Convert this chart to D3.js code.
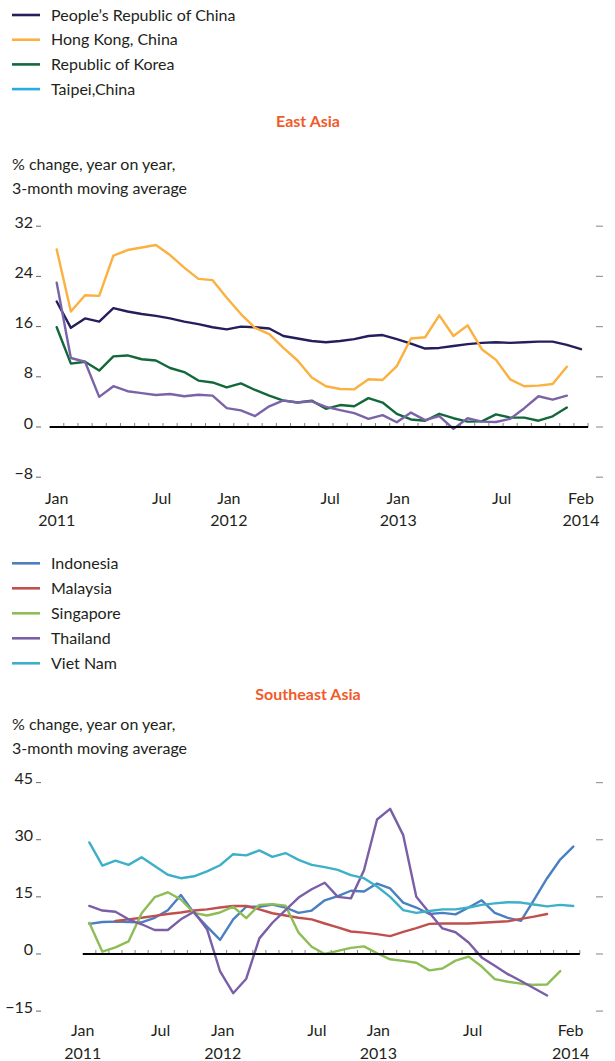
<!DOCTYPE html>
<html><head><meta charset="utf-8">
<script src="https://cdn.jsdelivr.net/npm/d3@7"></script>
<style>
html,body{margin:0;padding:0;background:#fff;}
text{font-family:Lato,"Open Sans",sans-serif;fill:#231f20;}
</style></head>
<body><svg id="c" width="615" height="1061"></svg>
<script>
// ---- data ----
const months = d3.timeMonth.range(new Date(2011,0,1), new Date(2014,2,1)); // Jan 2011 .. Feb 2014 (38)

const eastNames = ["People\u2019s Republic of China","Hong Kong, China","Republic of Korea","Taipei,China"];
const eastLegendColors = ["#241f5c","#fbb040","#12683a","#2aaae2"];
const eastLineColors = ["#241f5c","#fbb040","#12683a","#7b63a8"];
const china = [20.0,15.8,17.3,16.8,18.95,18.4,18.0,17.7,17.3,16.8,16.4,15.9,15.55,16.0,15.9,15.7,14.5,14.1,13.7,13.5,13.7,14.0,14.5,14.65,14.0,13.3,12.5,12.6,12.9,13.2,13.4,13.5,13.4,13.5,13.6,13.6,13.1,12.4];
const hongKong = [28.3,18.4,21.0,20.9,27.3,28.2,28.6,29.0,27.4,25.4,23.6,23.4,20.6,18.0,15.8,14.8,12.6,10.6,7.9,6.5,6.05,6.0,7.6,7.5,9.7,14.1,14.3,17.8,14.5,16.2,12.4,10.7,7.6,6.5,6.6,6.85,9.6,null];
const korea = [15.9,10.1,10.4,9.0,11.25,11.4,10.8,10.6,9.4,8.75,7.4,7.1,6.3,6.95,5.9,5.0,4.2,3.9,4.2,2.9,3.5,3.3,4.6,3.9,2.1,1.2,1.0,2.1,1.4,0.85,0.9,2.0,1.5,1.5,1.0,1.7,3.1,null];
const taipei = [23.0,11.0,10.4,4.8,6.5,5.7,5.4,5.1,5.25,4.9,5.15,5.0,3.0,2.65,1.75,3.3,4.25,3.9,4.1,3.2,2.7,2.2,1.3,1.9,0.75,2.3,1.1,1.75,-0.3,1.4,0.85,0.8,1.3,3.0,4.9,4.35,5.0,null];
const eastTicks = [32,24,16,8,0,-8];
const eastXLabels = [["Jan","2011"],["Jul"],["Jan","2012"],["Jul"],["Jan","2013"],["Jul"],["Feb","2014"]];
const eastXLabelPos = [0,7.4,12.15,19.3,24.1,31.4,37];

const seNames = ["Indonesia","Malaysia","Singapore","Thailand","Viet Nam"];
const seColors = ["#4a7fc1","#c0504d","#8dbd55","#7a5fa6","#3db0c8"];
const indonesia = [7.9,8.4,8.5,8.4,8.3,9.5,11.5,15.5,10.8,7.2,3.7,9.1,12.4,12.4,13.0,12.2,10.8,11.4,14.1,15.2,16.6,16.4,18.5,17.2,13.5,12.2,10.5,10.8,10.4,12.2,14.1,10.8,9.5,8.7,14.2,19.9,24.8,28.2];
const malaysia = [null,null,8.7,9.1,9.5,10.0,10.5,10.9,11.4,11.7,12.2,12.6,12.6,11.7,10.7,10.1,9.5,9.1,8.0,7.0,5.9,5.6,5.2,4.7,5.8,6.8,7.9,8.0,8.0,8.0,8.2,8.4,8.6,9.2,9.8,10.5,null,null];
const singapore = [8.2,0.6,1.75,3.3,10.7,14.9,16.2,14.3,10.8,10.1,10.9,12.4,9.4,12.9,13.1,12.7,5.6,1.9,0.0,0.8,1.6,2.0,0.2,-1.4,-1.8,-2.3,-4.3,-3.8,-1.75,-0.7,-3.3,-6.6,-7.3,-7.8,-8.1,-8.0,-4.5,null];
const thailand = [12.6,11.4,11.1,9.1,7.8,6.3,6.3,9.1,11.1,6.5,-4.6,-10.3,-6.5,4.1,8.2,11.5,14.8,17.0,18.7,15.0,14.6,22.0,35.3,38.1,31.2,15.0,10.8,6.7,5.7,3.0,-0.9,-3.1,-5.3,-7.1,-9.0,-10.9,null,null];
const vietNam = [29.3,23.2,24.5,23.4,25.4,23.1,20.8,19.9,20.4,21.7,23.3,26.2,25.9,27.2,25.5,26.5,24.7,23.4,22.8,22.1,20.7,19.9,17.7,15.0,11.5,10.8,11.3,11.7,11.7,12.2,12.9,13.3,13.6,13.5,13.0,12.5,12.9,12.6];
const seTicks = [45,30,15,0,-15];
const seXLabels = [["Jan","2011"],["Jul"],["Jan","2012"],["Jul"],["Jan","2013"],["Jul"],["Feb","2014"]];
const seXLabelPos = [-0.5,5.45,10.2,17.4,22.1,29.3,36.8];

const subtitle = ["% change, year on year,","3-month moving average"];

// ---- drawing ----
const svg = d3.select("#c");

function legend(names, colors, y0, step){
  const g = svg.append("g");
  names.forEach((n,i)=>{
    const y = y0 + i*step;
    g.append("line").attr("x1",12).attr("x2",40).attr("y1",y).attr("y2",y)
      .attr("stroke",colors[i]).attr("stroke-width",2.6);
    g.append("text").attr("x",51).attr("y",y+5.5).attr("font-size",16).text(n);
  });
}

function panel(cfg){
  const x = d3.scaleLinear().domain([0, months.length-1]).range(cfg.xRange);
  const y = d3.scaleLinear().domain(cfg.yDomain).range(cfg.yRange);
  const g = svg.append("g");
  // title
  g.append("text").attr("x",308).attr("y",cfg.titleY).attr("text-anchor","middle")
    .attr("font-size",16).attr("font-weight","bold").style("fill","#f15a29").text(cfg.title);
  subtitle.forEach((s,i)=>{
    g.append("text").attr("x",12).attr("y",cfg.subY + i*24).attr("font-size",16).text(s);
  });
  // y ticks
  cfg.ticks.forEach(t=>{
    const ty = y(t);
    g.append("text").attr("x",33).attr("y",ty+1.5).attr("text-anchor","end").attr("font-size",16)
      .text(t<0 ? "\u2212"+Math.abs(t) : t);
    g.append("line").attr("x1",36).attr("x2",41).attr("y1",ty).attr("y2",ty)
      .attr("stroke","#666").attr("stroke-width",1);
    g.append("line").attr("x1",596).attr("x2",603).attr("y1",ty).attr("y2",ty)
      .attr("stroke","#999").attr("stroke-width",1.2);
  });
  // x axis
  const y0 = y(0);
  const tickVals = d3.range(months.length).map(i=>i+0.5);
  g.selectAll(".mt").data(tickVals).join("line")
    .attr("x1",d=>x(d)).attr("x2",d=>x(d)).attr("y1",y0).attr("y2",y0-4)
    .attr("stroke","#666").attr("stroke-width",0.8);
  // lines
  const line = d3.line().defined(d=>d!=null).x((d,i)=>x(i)).y(d=>y(d));
  cfg.series.forEach((s,k)=>{
    g.append("path").datum(s).attr("d",line).attr("fill","none")
      .attr("stroke",cfg.colors[k]).attr("stroke-width",2.4)
      .attr("stroke-linejoin","round").attr("stroke-linecap","round");
  });
  g.append("line").attr("x1",x(-0.5)).attr("x2",x(37.5)).attr("y1",y0).attr("y2",y0)
    .attr("stroke","#000").attr("stroke-width",2);
  // x labels
  cfg.xLabels.forEach((lab,i)=>{
    const px = x(cfg.xLabelPos[i]);
    lab.forEach((t,j)=>{
      g.append("text").attr("x",px).attr("y",cfg.xLabY + j*22.5).attr("text-anchor","middle")
        .attr("font-size",16).text(t);
    });
  });
}

legend(eastNames, eastLegendColors, 15, 24.7);
panel({
  title:"East Asia", titleY:127, subY:170,
  xRange:[56.7, 56.7+37*14.17],
  yDomain:[-8,32], yRange:[477.2,226.2],
  ticks:eastTicks,
  series:[china,hongKong,korea,taipei], colors:eastLineColors,
  xLabels:eastXLabels, xLabelPos:eastXLabelPos, xLabY:503.5
});

legend(seNames, seColors, 563.3, 25);
panel({
  title:"Southeast Asia", titleY:700, subY:730,
  xRange:[89.3, 89.3+37*13.08],
  yDomain:[-15,45], yRange:[1011.1,782.6],
  ticks:seTicks,
  series:[indonesia,malaysia,singapore,thailand,vietNam], colors:seColors,
  xLabels:seXLabels, xLabelPos:seXLabelPos, xLabY:1036
});
</script></body></html>
